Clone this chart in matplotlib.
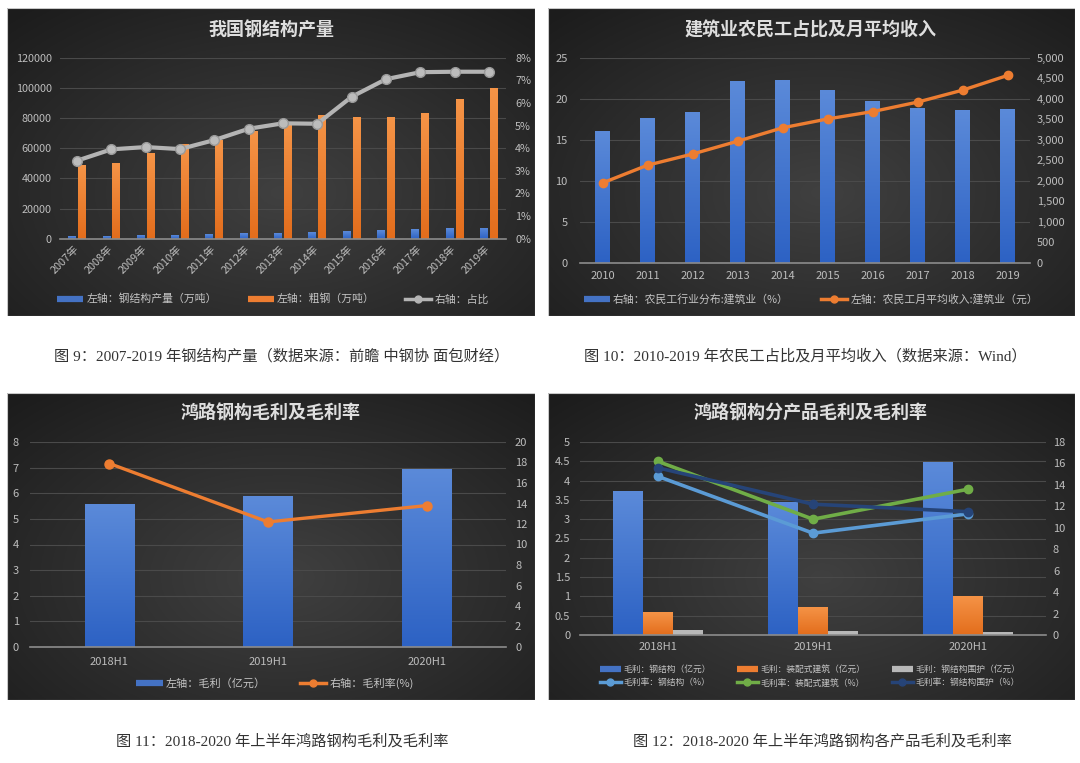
import numpy as np
import matplotlib
matplotlib.use('Agg')
import matplotlib.pyplot as plt
from matplotlib.colors import LinearSegmentedColormap
from matplotlib.lines import Line2D
from matplotlib.patches import Rectangle
from matplotlib.ticker import FuncFormatter

plt.rcParams['font.family'] = ['Noto Sans CJK SC', 'DejaVu Sans']

# ---- data ----
years1 = ['2007年', '2008年', '2009年', '2010年', '2011年', '2012年', '2013年',
          '2014年', '2015年', '2016年', '2017年', '2018年', '2019年']
steel_struct = [1700, 1900, 2300, 2500, 2850, 3450, 3950, 4200, 5050, 5700, 6100, 6850, 7350]
crude_steel = [49000, 50000, 57000, 63000, 65600, 71500, 77500, 82300, 80400, 80800, 83200, 92800, 99600]
ratio = [3.45, 3.95, 4.05, 3.96, 4.36, 4.86, 5.1, 5.08, 6.27, 7.05, 7.36, 7.38, 7.38]

years2 = ['2010', '2011', '2012', '2013', '2014', '2015', '2016', '2017', '2018', '2019']
worker_share = [16.1, 17.7, 18.4, 22.2, 22.3, 21.1, 19.7, 18.9, 18.6, 18.7]
worker_income = [1950, 2382, 2654, 2965, 3292, 3508, 3687, 3918, 4209, 4567]

halves = ['2018H1', '2019H1', '2020H1']
gross_profit = [5.6, 5.88, 6.95]
gross_margin = [17.9, 12.2, 13.8]

gp_steel = [3.72, 3.45, 4.48]
gp_prefab = [0.59, 0.73, 1.02]
gp_envelope = [0.13, 0.11, 0.09]
gm_steel = [14.8, 9.5, 11.3]
gm_prefab = [16.2, 10.8, 13.6]
gm_envelope = [15.6, 12.2, 11.5]

# ---- style ----
W, H = 1080, 763
BLUE = '#4472C4'
ORANGE = '#ED7D31'
GRAY = '#B4B4B4'
TICK = '#bdbdbd'
GRID = '#4a4a4a'
TITLE = '#dedede'

fig = plt.figure(figsize=(W / 100, H / 100), dpi=100)
fig.patch.set_facecolor('white')


def frac(x0, y0, x1, y1):
    return [x0 / W, 1 - y1 / H, (x1 - x0) / W, (y1 - y0) / H]


def panel(x0, y0, x1, y1):
    ax = fig.add_axes(frac(x0, y0, x1, y1))
    yy, xx = np.mgrid[0:1:200j, 0:1:300j]
    r = np.sqrt(((xx - 0.52) / 0.75) ** 2 + ((yy - 0.6) / 0.8) ** 2)
    v = np.clip(r, 0, 1)[..., None]
    c0 = np.array([0x40, 0x40, 0x40]) / 255
    c1 = np.array([0x1c, 0x1c, 0x1c]) / 255
    ax.imshow(c0 + (c1 - c0) * v, extent=[0, 1, 0, 1], aspect='auto')
    ax.add_patch(Rectangle((0, 0), 1, 1, fill=False, ec='#c8c8c8', lw=0.8,
                           transform=ax.transAxes))
    ax.axis('off')


def grad_bars(ax, bars, top, bot):
    cmap = LinearSegmentedColormap.from_list('g', [top, bot])
    grad = np.linspace(0, 1, 100)[:, None]
    for b in bars:
        x, y, w, h = b.get_x(), b.get_y(), b.get_width(), b.get_height()
        b.set_facecolor('none')
        im = ax.imshow(grad, extent=[x, x + w, y, y + h], cmap=cmap,
                       aspect='auto', origin='upper', zorder=2)
        im.set_clip_path(b)


def style(ax, ax2, lpad, rpad, fs=8):
    for a in (ax, ax2):
        for s in a.spines.values():
            s.set_visible(False)
        a.tick_params(length=0, colors=TICK, labelsize=fs)
        a.patch.set_visible(False)
    ax.spines['bottom'].set_visible(True)
    ax.spines['bottom'].set_color('#8c8c8c')
    ax.spines['bottom'].set_linewidth(1.2)
    ax.tick_params(axis='y', pad=lpad)
    ax2.tick_params(axis='y', pad=rpad)
    ax.grid(axis='y', color=GRID, lw=0.8)
    ax.set_axisbelow(True)


def title(x, y, s):
    fig.text(x / W, 1 - y / H, s, ha='center', va='center', fontsize=13,
             fontweight='bold', color=TITLE)


def legend(handles, labels, x, y, fs=7.8, ncol=3, cs=2.5):
    fig.legend(handles, labels, loc='center', bbox_to_anchor=(x / W, 1 - y / H),
               ncol=ncol, frameon=False, fontsize=fs, labelcolor='#c4c4c4',
               handlelength=2.4, handletextpad=0.3, columnspacing=cs,
               labelspacing=0.55)


def bar_handle(c):
    return Line2D([0], [0], color=c, lw=4.5, solid_capstyle='butt')


def line_handle(c):
    return Line2D([0], [0], color=c, lw=2.5, marker='o', ms=5)


# ---- panel 1 ----
panel(7, 8, 535, 316)
ax = fig.add_axes(frac(60, 57.7, 506, 238.7))
x = np.arange(len(years1))
b1 = ax.bar(x - 0.145, steel_struct, width=0.23, color=BLUE)
b2 = ax.bar(x + 0.145, crude_steel, width=0.23, color=ORANGE)
grad_bars(ax, b1, '#5b8ad9', '#2d62c4')
grad_bars(ax, b2, '#f59447', '#e36d1c')
ax.set_xlim(-0.5, len(years1) - 0.5)
ax.set_ylim(0, 120000)
ax.set_yticks(range(0, 120001, 20000))
ax.set_xticks(x)
ax.set_xticklabels(years1, rotation=45, ha='right', va='center', rotation_mode='anchor')
ax.tick_params(axis='x', pad=6)
ax2 = ax.twinx()
ax2.plot(x, ratio, color=GRAY, lw=3, marker='o', ms=7, mfc='#bcbcbc', mec='#9a9a9a')
ax2.set_ylim(0, 8)
ax2.set_yticks(range(0, 9))
ax2.yaxis.set_major_formatter(FuncFormatter(lambda v, p: f'{v:.0f}%'))
style(ax, ax2, 6, 6.5, fs=7.8)
title(271, 30, '我国钢结构产量')
legend([bar_handle(BLUE), bar_handle(ORANGE), line_handle(GRAY)],
       ['左轴：钢结构产量（万吨）', '左轴：粗钢（万吨）', '右轴：占比'], 273, 299, cs=2.8)

# ---- panel 2 ----
panel(548, 8, 1075, 316)
ax = fig.add_axes(frac(580, 57.7, 1030, 263))
x = np.arange(len(years2))
b1 = ax.bar(x, worker_share, width=0.32, color=BLUE)
grad_bars(ax, b1, '#5b8ad9', '#2d62c4')
ax.set_xlim(-0.5, len(years2) - 0.5)
ax.set_ylim(0, 25)
ax.set_yticks(range(0, 26, 5))
ax.set_xticks(x)
ax.set_xticklabels(years2)
ax.tick_params(axis='x', pad=6)
ax2 = ax.twinx()
ax2.plot(x, worker_income, color=ORANGE, lw=2.4, marker='o', ms=6)
ax2.set_ylim(0, 5000)
ax2.set_yticks(range(0, 5001, 500))
ax2.yaxis.set_major_formatter(FuncFormatter(lambda v, p: f'{v:,.0f}'))
style(ax, ax2, 9, 5, fs=8)
title(811, 30, '建筑业农民工占比及月平均收入')
legend([bar_handle(BLUE), line_handle(ORANGE)],
       ['右轴：农民工行业分布:建筑业（%）', '左轴：农民工月平均收入:建筑业（元）'],
       811, 299, ncol=2, cs=3)

# ---- panel 3 ----
panel(7, 393, 535, 700)
ax = fig.add_axes(frac(30, 442, 506, 647))
x = np.arange(len(halves))
b1 = ax.bar(x, gross_profit, width=0.31, color=BLUE)
grad_bars(ax, b1, '#5b8ad9', '#2d62c4')
ax.set_xlim(-0.5, len(halves) - 0.5)
ax.set_ylim(0, 8)
ax.set_yticks(range(0, 9))
ax.set_xticks(x)
ax.set_xticklabels(halves)
ax.tick_params(axis='x', pad=7)
ax2 = ax.twinx()
ax2.plot(x, gross_margin, color=ORANGE, lw=2.4, marker='o', ms=6.5)
ax2.set_ylim(0, 20)
ax2.set_yticks(range(0, 21, 2))
style(ax, ax2, 8, 6.5, fs=8)
title(271, 413, '鸿路钢构毛利及毛利率')
legend([bar_handle(BLUE), line_handle(ORANGE)],
       ['左轴：毛利（亿元）', '右轴：毛利率(%)'], 275, 683, fs=8, ncol=2, cs=3)

# ---- panel 4 ----
panel(548, 393, 1075, 700)
ax = fig.add_axes(frac(580, 442, 1046, 635))
x = np.arange(len(halves))
bw = 0.193
b1 = ax.bar(x - bw, gp_steel, width=bw, color=BLUE)
b2 = ax.bar(x, gp_prefab, width=bw, color=ORANGE)
b3 = ax.bar(x + bw, gp_envelope, width=bw, color='#b8b8b8')
grad_bars(ax, b1, '#5b8ad9', '#2d62c4')
grad_bars(ax, b2, '#f59447', '#e36d1c')
ax.set_xlim(-0.5, len(halves) - 0.5)
ax.set_ylim(0, 5)
ax.set_yticks(np.arange(0, 5.01, 0.5))
ax.yaxis.set_major_formatter(FuncFormatter(lambda v, p: f'{v:g}'))
ax.set_xticks(x)
ax.set_xticklabels(halves)
ax.tick_params(axis='x', pad=5)
ax2 = ax.twinx()
LBLUE, GREEN, DBLUE = '#5B9BD5', '#70AD47', '#264478'
ax2.plot(x, gm_steel, color=LBLUE, lw=2.6, marker='o', ms=6)
ax2.plot(x, gm_prefab, color=GREEN, lw=2.6, marker='o', ms=6)
ax2.plot(x, gm_envelope, color=DBLUE, lw=2.6, marker='o', ms=6)
ax2.set_ylim(0, 18)
ax2.set_yticks(range(0, 19, 2))
style(ax, ax2, 7, 5, fs=8)
title(811, 413, '鸿路钢构分产品毛利及毛利率')
legend([bar_handle(BLUE), line_handle(LBLUE), bar_handle(ORANGE), line_handle(GREEN),
        bar_handle('#b8b8b8'), line_handle(DBLUE)],
       ['毛利：钢结构（亿元）', '毛利率：钢结构（%）', '毛利：装配式建筑（亿元）',
        '毛利率：装配式建筑（%）', '毛利：钢结构围护（亿元）', '毛利率：钢结构围护（%）'],
       810, 676, fs=6.3, ncol=3, cs=3)

# ---- captions ----
cap_font = ['Liberation Serif', 'Noto Sans CJK SC']
captions = [
    (282, 356, '图 9：2007-2019 年钢结构产量（数据来源：前瞻 中钢协 面包财经）'),
    (805, 356, '图 10：2010-2019 年农民工占比及月平均收入（数据来源：Wind）'),
    (282, 741, '图 11：2018-2020 年上半年鸿路钢构毛利及毛利率'),
    (822, 741, '图 12：2018-2020 年上半年鸿路钢构各产品毛利及毛利率'),
]
for cx, cy, s in captions:
    fig.text(cx / W, 1 - cy / H, s, ha='center', va='center', fontsize=11,
             color='#333333', family=cap_font)

fig.savefig('out.png', dpi=100, facecolor='white')
